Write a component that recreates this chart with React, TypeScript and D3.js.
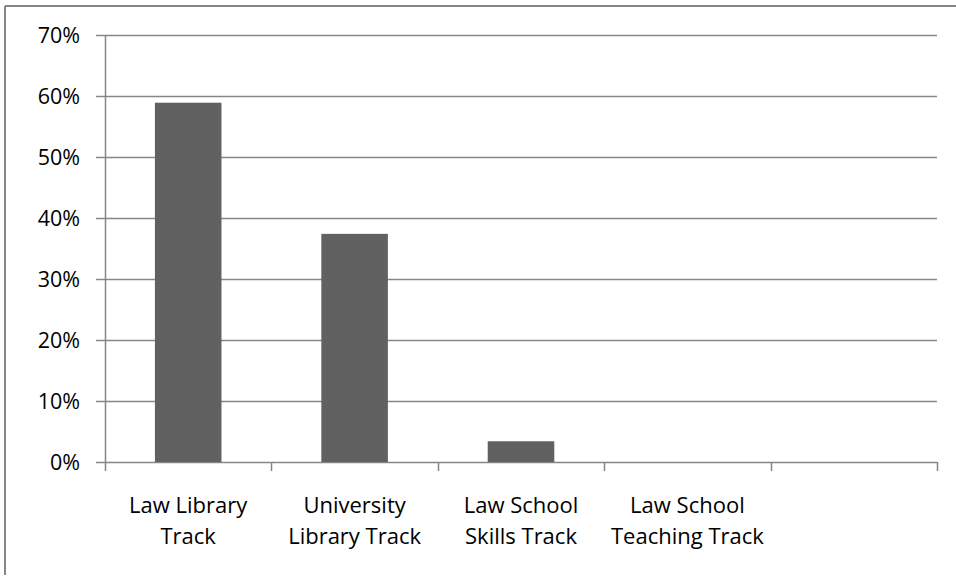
import React from "react";
import * as d3 from "d3";

const categories: string[][] = [
  ["Law Library", "Track"],
  ["University", "Library Track"],
  ["Law School", "Skills Track"],
  ["Law School", "Teaching Track"],
  [""],
];
const values: (number | null)[] = [0.589, 0.374, 0.034, null, null];
const yTicks: number[] = [0, 0.1, 0.2, 0.3, 0.4, 0.5, 0.6, 0.7];

const W = 956;
const H = 578;
const left = 105;
const right = 937;
const top = 35;
const bottom = 462;
const FONT = "'Open Sans', sans-serif";

export default function App() {
  const x = d3
    .scaleBand<number>()
    .domain(categories.map((_, i) => i))
    .range([left, right])
    .padding(0);
  const y = d3.scaleLinear().domain([0, 0.7]).range([bottom, top]);
  const bw = x.bandwidth() * 0.4;
  const fmt = d3.format(".0%");
  const grid = "#868686";

  return (
    <svg
      width={W}
      height={H}
      style={{ position: "absolute", left: 0, top: 0, background: "#fff" }}
    >
      <rect x={0} y={0} width={W} height={H} fill="#fff" />
      {/* outer frame (top + left visible) */}
      <line x1={5} y1={6} x2={W} y2={6} stroke="#868686" strokeWidth={2} />
      <line x1={5} y1={6} x2={5} y2={H - 3} stroke="#868686" strokeWidth={2} />

      {/* gridlines and y ticks */}
      {yTicks.map((t) => (
        <g key={t}>
          <line
            x1={left - 9}
            x2={right}
            y1={Math.round(y(t)) + 0.5}
            y2={Math.round(y(t)) + 0.5}
            stroke={grid}
            strokeWidth={1.5}
          />
          <text
            x={80}
            y={y(t)}
            dy="0.36em"
            textAnchor="end"
            fontFamily={FONT}
            fontSize={21.5}
            fill="#000"
          >
            {fmt(t)}
          </text>
        </g>
      ))}
      {/* y axis */}
      <line x1={left + 0.5} x2={left + 0.5} y1={top} y2={bottom} stroke={grid} strokeWidth={1.5} />

      {/* category ticks */}
      {d3.range(categories.length + 1).map((i) => {
        const xx = i < categories.length ? x(i)! : right;
        return (
          <line
            key={i}
            x1={Math.round(xx) + 0.5}
            x2={Math.round(xx) + 0.5}
            y1={bottom}
            y2={bottom + 9}
            stroke={grid}
            strokeWidth={1.5}
          />
        );
      })}

      {/* bars */}
      {values.map((v, i) =>
        v == null ? null : (
          <rect
            key={i}
            x={x(i)! + (x.bandwidth() - bw) / 2}
            y={y(v)}
            width={bw}
            height={y(0) - y(v)}
            fill="#616161"
          />
        )
      )}

      {/* category labels */}
      {categories.map((lines, i) => (
        <text
          key={i}
          x={x(i)! + x.bandwidth() / 2}
          y={513}
          textAnchor="middle"
          fontFamily={FONT}
          fontSize={22}
          fill="#000"
        >
          {lines.map((l, j) => (
            <tspan key={j} x={x(i)! + x.bandwidth() / 2} dy={j === 0 ? 0 : 31}>
              {l}
            </tspan>
          ))}
        </text>
      ))}
    </svg>
  );
}
